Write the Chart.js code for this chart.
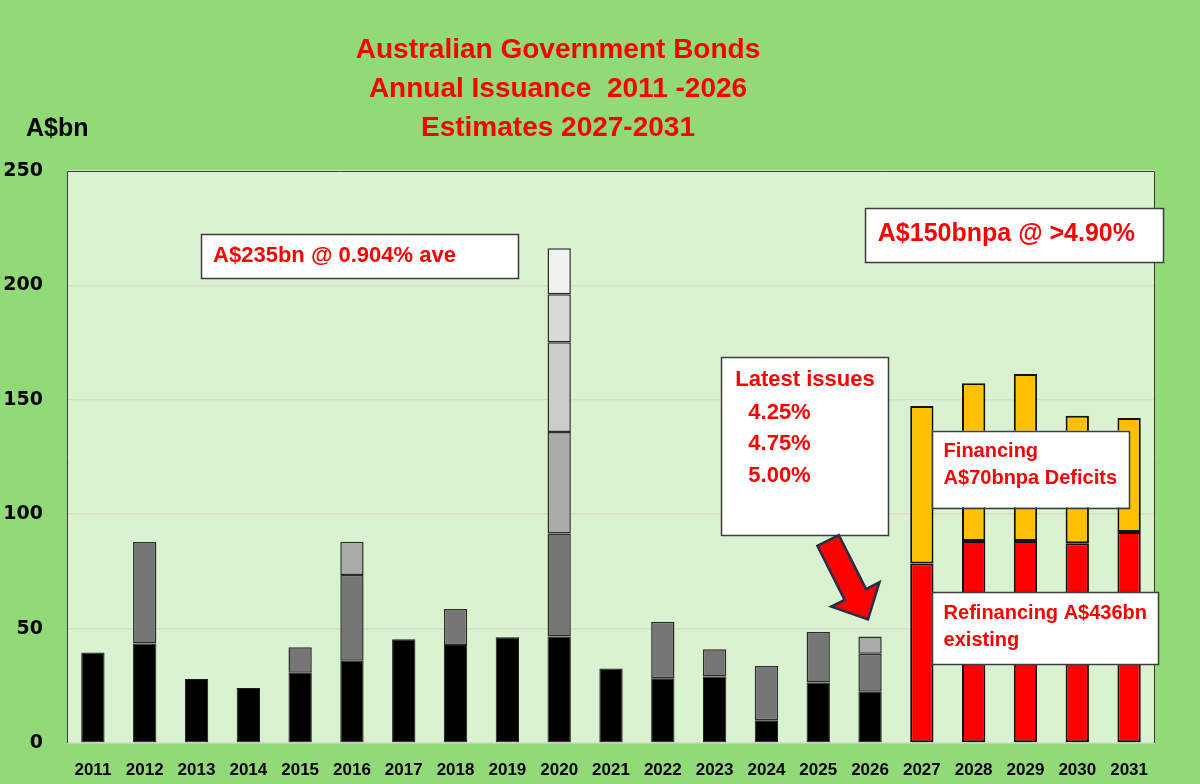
<!DOCTYPE html>
<html>
<head>
<meta charset="utf-8">
<script src="https://cdn.jsdelivr.net/npm/chart.js@4"></script>
<style>
html,body{margin:0;padding:0;background:#92d978;}
#wrap{width:1200px;height:784px;}
</style>
</head>
<body>
<div id="wrap"><canvas id="c" width="1200" height="784"></canvas></div>
<script>
// ---- data ----
const years = ["2011","2012","2013","2014","2015","2016","2017","2018","2019","2020","2021","2022","2023","2024","2025","2026","2027","2028","2029","2030","2031"];
const issueTier1 = [39.5,43.5,28,24,30.7,36,45.3,42.8,46.2,46.5,32.6,28.3,29.1,9.9,26.4,22.4,null,null,null,null,null];
const issueTier2 = [null,44.3,null,null,11.1,37.4,null,15.8,null,45.1,null,24.7,11.9,23.8,22.1,16.6,null,null,null,null,null];
const issueTier3 = [null,null,null,null,null,14.6,null,null,null,44.3,null,null,null,null,null,7.6,null,null,null,null,null];
const issueTier4 = [null,null,null,null,null,null,null,null,null,39.2,null,null,null,null,null,null,null,null,null,null,null];
const issueTier5 = [null,null,null,null,null,null,null,null,null,21.0,null,null,null,null,null,null,null,null,null,null,null];
const issueTier6 = [null,null,null,null,null,null,null,null,null,20.1,null,null,null,null,null,null,null,null,null,null,null];
const refinancing = [null,null,null,null,null,null,null,null,null,null,null,null,null,null,null,null,78.5,88.3,88.3,87.3,92.2];
const financing   = [null,null,null,null,null,null,null,null,null,null,null,null,null,null,null,null,68.8,68.9,73.0,55.7,49.8];
const yTicks = [0,50,100,150,200,250];
const titleLines = ["Australian Government Bonds","Annual Issuance  2011 -2026","Estimates 2027-2031"];

// annotation boxes (x in category index units, y in A$bn)
const FF = "'Liberation Sans', Arial, sans-serif";
const notes = [
  {x0:2.08, x1:8.2,  yTop:222.5, yBot:203.1, font:"bold 22px "+FF, lines:["A$235bn @ 0.904% ave"], tx:2.32, ty:[212.8]},
  {x0:14.9, x1:20.66,yTop:233.8, yBot:210.2, font:"bold 25px "+FF, lines:["A$150bnpa @ >4.90%"], tx:15.15, ty:[222.3]},
  {x0:12.12,x1:15.34,yTop:168.8, yBot:90.9,  font:"bold 22px "+FF, lines:["Latest issues","4.25%","4.75%","5.00%"], tx:[12.4,12.65,12.65,12.65], ty:[158.6,144.4,130.6,116.6]},
  {x0:16.2, x1:20.01,yTop:136.5, yBot:103.0, font:"bold 20px "+FF, lines:["Financing","A$70bnpa Deficits"], tx:16.42, ty:[127.4,115.5]},
  {x0:16.2, x1:20.57,yTop:65.9,  yBot:34.5,  font:"bold 20px "+FF, lines:["Refinancing A$436bn","existing"], tx:16.42, ty:[56.7,45.0]}
];
const arrow = {fromX:14.19, fromY:88.5, toX:14.96, toY:54.0};

const ds = (label, data, color, bw, bc) => ({label, data, backgroundColor:color, borderColor:bc||'#2b2b2b', borderWidth:bw, stack:'s', borderSkipped:false});

const decor = {
  id:'decor',
  beforeDraw(chart){
    const {ctx, chartArea:a} = chart;
    ctx.save();
    ctx.fillStyle = '#92d978';
    ctx.fillRect(0,0,chart.width,chart.height);
    ctx.fillStyle = '#daf2d0';
    ctx.fillRect(a.left,a.top,a.right-a.left,a.bottom-a.top);
    ctx.restore();
  },
  afterDraw(chart){
    const {ctx, chartArea:a, scales:{x,y}} = chart;
    const step = x.getPixelForValue(1) - x.getPixelForValue(0);
    const px = v => x.getPixelForValue(0) + v*step;
    const py = v => y.getPixelForValue(v);
    ctx.save();
    // plot frame
    ctx.strokeStyle = '#3a3a3a'; ctx.lineWidth = 1;
    ctx.beginPath();
    ctx.moveTo(a.left+0.5, a.bottom); ctx.lineTo(a.left+0.5, a.top+0.5); ctx.lineTo(a.right-0.5, a.top+0.5); ctx.lineTo(a.right-0.5, a.bottom);
    ctx.stroke();
    // title
    ctx.fillStyle = '#ff0000';
    ctx.font = "bold 28px "+FF;
    ctx.textAlign = 'center'; ctx.textBaseline = 'middle';
    const ty = [50, 89, 128];
    titleLines.forEach((t,i)=>ctx.fillText(t, 558, ty[i]));
    // unit label
    ctx.fillStyle = '#000';
    ctx.font = "bold 25px "+FF;
    ctx.textAlign = 'left';
    ctx.fillText('A$bn', 26, 129);
    // notes
    notes.forEach(n=>{
      const l = px(n.x0), r = px(n.x1), t = py(n.yTop), b = py(n.yBot);
      ctx.fillStyle = '#ffffff';
      ctx.fillRect(l,t,r-l,b-t);
      ctx.strokeStyle = '#3c3c3c'; ctx.lineWidth = 1.5;
      ctx.strokeRect(Math.round(l)+0.5, Math.round(t)+0.5, Math.round(r-l), Math.round(b-t));
      ctx.fillStyle = '#ff0000'; ctx.font = n.font; ctx.textAlign='left'; ctx.textBaseline='middle';
      n.lines.forEach((s,i)=>{
        const tx = Array.isArray(n.tx) ? n.tx[i] : n.tx;
        ctx.fillText(s, px(tx), py(n.ty[i]));
      });
    });
    // arrow
    const x0 = px(arrow.fromX), y0 = py(arrow.fromY), x1 = px(arrow.toX), y1 = py(arrow.toY);
    const ang = Math.atan2(y1-y0, x1-x0);
    const len = Math.hypot(x1-x0, y1-y0);
    const sw = 12, hw = 27, hl = 28;
    ctx.translate(x0,y0); ctx.rotate(ang);
    ctx.beginPath();
    ctx.moveTo(0,-sw); ctx.lineTo(len-hl,-sw); ctx.lineTo(len-hl,-hw); ctx.lineTo(len,0);
    ctx.lineTo(len-hl,hw); ctx.lineTo(len-hl,sw); ctx.lineTo(0,sw); ctx.closePath();
    ctx.fillStyle = '#ff0000'; ctx.fill();
    ctx.strokeStyle = '#1f3048'; ctx.lineWidth = 2.5; ctx.lineJoin='miter'; ctx.stroke();
    ctx.restore();
  }
};

new Chart(document.getElementById('c'), {
  type:'bar',
  data:{
    labels: years,
    datasets:[
      ds('Tier 1', issueTier1, '#000000', 1, '#1a1a1a'),
      ds('Tier 2', issueTier2, '#767676', 1.5),
      ds('Tier 3', issueTier3, '#aaaaaa', 1.5),
      ds('Tier 4', issueTier4, '#cccccc', 1.5),
      ds('Tier 5', issueTier5, '#d9d9d9', 1.5),
      ds('Tier 6', issueTier6, '#f0f0f0', 1.5),
      ds('Refinancing', refinancing, '#ff0000', 2, '#111111'),
      ds('Financing', financing, '#ffc000', 2, '#111111')
    ]
  },
  options:{
    responsive:false,
    animation:false,
    devicePixelRatio:1,
    layout:{padding:{left:0,right:45,top:171,bottom:0}},
    datasets:{bar:{barPercentage:0.45,categoryPercentage:1}},
    plugins:{legend:{display:false},tooltip:{enabled:false},title:{display:false}},
    scales:{
      x:{
        stacked:true,
        grid:{display:false, drawTicks:false},
        border:{display:false},
        ticks:{color:'#000', font:{family:FF, weight:'bold', size:17}, padding:17, maxRotation:0, autoSkip:false},
        afterFit(s){ s.height = 41; }
      },
      y:{
        stacked:true,
        min:0, max:250,
        afterBuildTicks(s){ s.ticks = yTicks.map(v=>({value:v})); },
        grid:{color:'#d5ddd2', lineWidth:1.5, drawTicks:false},
        border:{display:false},
        ticks:{color:'#000', font:{family:"'DejaVu Sans', sans-serif", weight:'bold', size:19}, padding:24},
        afterFit(s){ s.width = 67; }
      }
    }
  },
  plugins:[decor]
});
</script>
</body>
</html>
